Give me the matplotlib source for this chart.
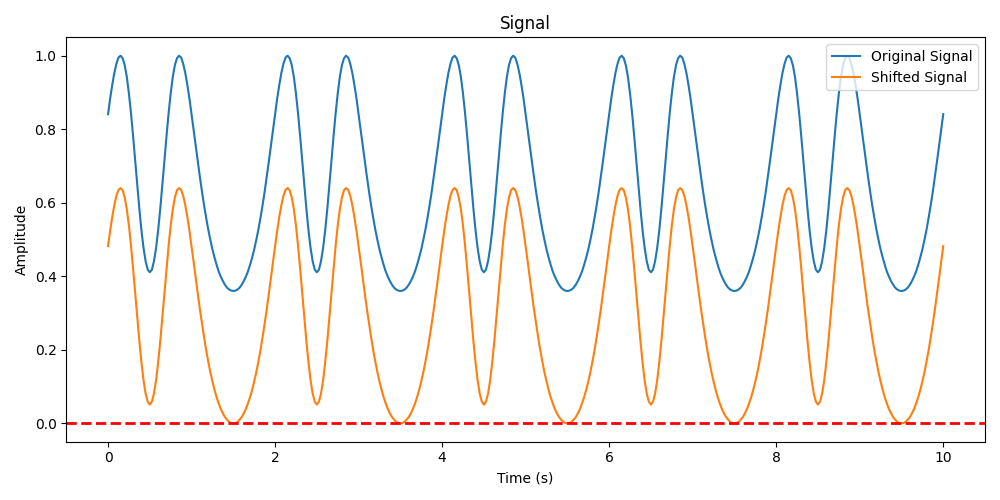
import numpy as np
import matplotlib
matplotlib.use('Agg')
import matplotlib.pyplot as plt


# sample times, 0.025 s apart
time = np.linspace(0, 10, 401)

original_signal = [
    0.841, 0.883, 0.920, 0.953, 0.978, 0.995, 1.000, 0.993, 0.974, 0.942,
    0.897, 0.843, 0.781, 0.714, 0.647, 0.583, 0.525, 0.477, 0.441, 0.418,
    0.411, 0.418, 0.441, 0.477, 0.525, 0.583, 0.647, 0.714, 0.781, 0.843,
    0.897, 0.942, 0.974, 0.993, 1.000, 0.995, 0.978, 0.953, 0.920, 0.883,
    0.841, 0.798, 0.755, 0.712, 0.670, 0.630, 0.593, 0.559, 0.527, 0.499,
    0.473, 0.451, 0.431, 0.413, 0.399, 0.387, 0.377, 0.369, 0.364, 0.361,
    0.360, 0.361, 0.364, 0.369, 0.377, 0.387, 0.399, 0.413, 0.431, 0.451,
    0.473, 0.499, 0.527, 0.559, 0.593, 0.630, 0.670, 0.712, 0.755, 0.798,
    0.841, 0.883, 0.920, 0.953, 0.978, 0.995, 1.000, 0.993, 0.974, 0.942,
    0.897, 0.843, 0.781, 0.714, 0.647, 0.583, 0.525, 0.477, 0.441, 0.418,
    0.411, 0.418, 0.441, 0.477, 0.525, 0.583, 0.647, 0.714, 0.781, 0.843,
    0.897, 0.942, 0.974, 0.993, 1.000, 0.995, 0.978, 0.953, 0.920, 0.883,
    0.841, 0.798, 0.755, 0.712, 0.670, 0.630, 0.593, 0.559, 0.527, 0.499,
    0.473, 0.451, 0.431, 0.413, 0.399, 0.387, 0.377, 0.369, 0.364, 0.361,
    0.360, 0.361, 0.364, 0.369, 0.377, 0.387, 0.399, 0.413, 0.431, 0.451,
    0.473, 0.499, 0.527, 0.559, 0.593, 0.630, 0.670, 0.712, 0.755, 0.798,
    0.841, 0.883, 0.920, 0.953, 0.978, 0.995, 1.000, 0.993, 0.974, 0.942,
    0.897, 0.843, 0.781, 0.714, 0.647, 0.583, 0.525, 0.477, 0.441, 0.418,
    0.411, 0.418, 0.441, 0.477, 0.525, 0.583, 0.647, 0.714, 0.781, 0.843,
    0.897, 0.942, 0.974, 0.993, 1.000, 0.995, 0.978, 0.953, 0.920, 0.883,
    0.841, 0.798, 0.755, 0.712, 0.670, 0.630, 0.593, 0.559, 0.527, 0.499,
    0.473, 0.451, 0.431, 0.413, 0.399, 0.387, 0.377, 0.369, 0.364, 0.361,
    0.360, 0.361, 0.364, 0.369, 0.377, 0.387, 0.399, 0.413, 0.431, 0.451,
    0.473, 0.499, 0.527, 0.559, 0.593, 0.630, 0.670, 0.712, 0.755, 0.798,
    0.841, 0.883, 0.920, 0.953, 0.978, 0.995, 1.000, 0.993, 0.974, 0.942,
    0.897, 0.843, 0.781, 0.714, 0.647, 0.583, 0.525, 0.477, 0.441, 0.418,
    0.411, 0.418, 0.441, 0.477, 0.525, 0.583, 0.647, 0.714, 0.781, 0.843,
    0.897, 0.942, 0.974, 0.993, 1.000, 0.995, 0.978, 0.953, 0.920, 0.883,
    0.841, 0.798, 0.755, 0.712, 0.670, 0.630, 0.593, 0.559, 0.527, 0.499,
    0.473, 0.451, 0.431, 0.413, 0.399, 0.387, 0.377, 0.369, 0.364, 0.361,
    0.360, 0.361, 0.364, 0.369, 0.377, 0.387, 0.399, 0.413, 0.431, 0.451,
    0.473, 0.499, 0.527, 0.559, 0.593, 0.630, 0.670, 0.712, 0.755, 0.798,
    0.841, 0.883, 0.920, 0.953, 0.978, 0.995, 1.000, 0.993, 0.974, 0.942,
    0.897, 0.843, 0.781, 0.714, 0.647, 0.583, 0.525, 0.477, 0.441, 0.418,
    0.411, 0.418, 0.441, 0.477, 0.525, 0.583, 0.647, 0.714, 0.781, 0.843,
    0.897, 0.942, 0.974, 0.993, 1.000, 0.995, 0.978, 0.953, 0.920, 0.883,
    0.841, 0.798, 0.755, 0.712, 0.670, 0.630, 0.593, 0.559, 0.527, 0.499,
    0.473, 0.451, 0.431, 0.413, 0.399, 0.387, 0.377, 0.369, 0.364, 0.361,
    0.360, 0.361, 0.364, 0.369, 0.377, 0.387, 0.399, 0.413, 0.431, 0.451,
    0.473, 0.499, 0.527, 0.559, 0.593, 0.630, 0.670, 0.712, 0.755, 0.798,
    0.841,
]

shifted_signal = [
    0.482, 0.523, 0.561, 0.593, 0.619, 0.635, 0.640, 0.634, 0.614, 0.582,
    0.538, 0.483, 0.421, 0.355, 0.288, 0.223, 0.166, 0.117, 0.081, 0.059,
    0.051, 0.059, 0.081, 0.117, 0.166, 0.223, 0.288, 0.355, 0.421, 0.483,
    0.538, 0.582, 0.614, 0.634, 0.640, 0.635, 0.619, 0.593, 0.561, 0.523,
    0.482, 0.439, 0.395, 0.352, 0.310, 0.271, 0.234, 0.199, 0.168, 0.139,
    0.114, 0.091, 0.071, 0.054, 0.039, 0.027, 0.017, 0.010, 0.004, 0.001,
    0.000, 0.001, 0.004, 0.010, 0.017, 0.027, 0.039, 0.054, 0.071, 0.091,
    0.114, 0.139, 0.168, 0.199, 0.234, 0.271, 0.310, 0.352, 0.395, 0.439,
    0.482, 0.523, 0.561, 0.593, 0.619, 0.635, 0.640, 0.634, 0.614, 0.582,
    0.538, 0.483, 0.421, 0.355, 0.288, 0.223, 0.166, 0.117, 0.081, 0.059,
    0.051, 0.059, 0.081, 0.117, 0.166, 0.223, 0.288, 0.355, 0.421, 0.483,
    0.538, 0.582, 0.614, 0.634, 0.640, 0.635, 0.619, 0.593, 0.561, 0.523,
    0.482, 0.439, 0.395, 0.352, 0.310, 0.271, 0.234, 0.199, 0.168, 0.139,
    0.114, 0.091, 0.071, 0.054, 0.039, 0.027, 0.017, 0.010, 0.004, 0.001,
    0.000, 0.001, 0.004, 0.010, 0.017, 0.027, 0.039, 0.054, 0.071, 0.091,
    0.114, 0.139, 0.168, 0.199, 0.234, 0.271, 0.310, 0.352, 0.395, 0.439,
    0.482, 0.523, 0.561, 0.593, 0.619, 0.635, 0.640, 0.634, 0.614, 0.582,
    0.538, 0.483, 0.421, 0.355, 0.288, 0.223, 0.166, 0.117, 0.081, 0.059,
    0.051, 0.059, 0.081, 0.117, 0.166, 0.223, 0.288, 0.355, 0.421, 0.483,
    0.538, 0.582, 0.614, 0.634, 0.640, 0.635, 0.619, 0.593, 0.561, 0.523,
    0.482, 0.439, 0.395, 0.352, 0.310, 0.271, 0.234, 0.199, 0.168, 0.139,
    0.114, 0.091, 0.071, 0.054, 0.039, 0.027, 0.017, 0.010, 0.004, 0.001,
    0.000, 0.001, 0.004, 0.010, 0.017, 0.027, 0.039, 0.054, 0.071, 0.091,
    0.114, 0.139, 0.168, 0.199, 0.234, 0.271, 0.310, 0.352, 0.395, 0.439,
    0.482, 0.523, 0.561, 0.593, 0.619, 0.635, 0.640, 0.634, 0.614, 0.582,
    0.538, 0.483, 0.421, 0.355, 0.288, 0.223, 0.166, 0.117, 0.081, 0.059,
    0.051, 0.059, 0.081, 0.117, 0.166, 0.223, 0.288, 0.355, 0.421, 0.483,
    0.538, 0.582, 0.614, 0.634, 0.640, 0.635, 0.619, 0.593, 0.561, 0.523,
    0.482, 0.439, 0.395, 0.352, 0.310, 0.271, 0.234, 0.199, 0.168, 0.139,
    0.114, 0.091, 0.071, 0.054, 0.039, 0.027, 0.017, 0.010, 0.004, 0.001,
    0.000, 0.001, 0.004, 0.010, 0.017, 0.027, 0.039, 0.054, 0.071, 0.091,
    0.114, 0.139, 0.168, 0.199, 0.234, 0.271, 0.310, 0.352, 0.395, 0.439,
    0.482, 0.523, 0.561, 0.593, 0.619, 0.635, 0.640, 0.634, 0.614, 0.582,
    0.538, 0.483, 0.421, 0.355, 0.288, 0.223, 0.166, 0.117, 0.081, 0.059,
    0.051, 0.059, 0.081, 0.117, 0.166, 0.223, 0.288, 0.355, 0.421, 0.483,
    0.538, 0.582, 0.614, 0.634, 0.640, 0.635, 0.619, 0.593, 0.561, 0.523,
    0.482, 0.439, 0.395, 0.352, 0.310, 0.271, 0.234, 0.199, 0.168, 0.139,
    0.114, 0.091, 0.071, 0.054, 0.039, 0.027, 0.017, 0.010, 0.004, 0.001,
    0.000, 0.001, 0.004, 0.010, 0.017, 0.027, 0.039, 0.054, 0.071, 0.091,
    0.114, 0.139, 0.168, 0.199, 0.234, 0.271, 0.310, 0.352, 0.395, 0.439,
    0.482,
]

baseline = 0.0


def main():
    fig, ax = plt.subplots(figsize=(10, 5), dpi=100)
    ax.plot(time, original_signal, label='Original Signal')
    ax.plot(time, shifted_signal, label='Shifted Signal')
    ax.axhline(baseline, color='r', linestyle='--', linewidth=2)
    ax.set_title('Signal')
    ax.set_xlabel('Time (s)')
    ax.set_ylabel('Amplitude')
    ax.legend(loc='upper right')
    fig.tight_layout()
    fig.savefig('out.png')


if __name__ == '__main__':
    main()
